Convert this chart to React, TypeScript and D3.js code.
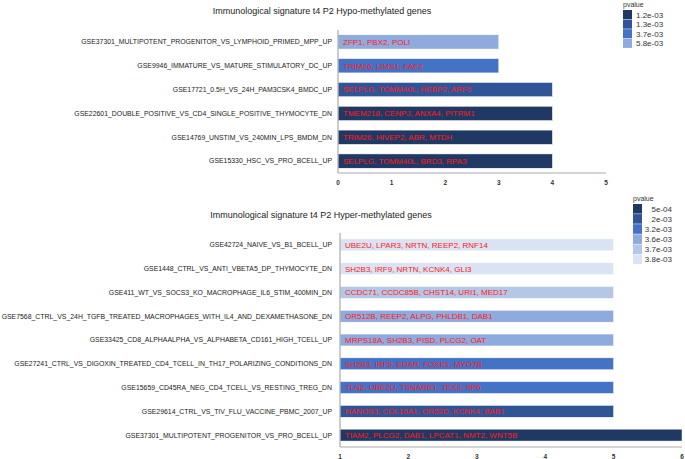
import React from "react";
import * as d3 from "d3";

const hypoCategories = [
  "GSE37301_MULTIPOTENT_PROGENITOR_VS_LYMPHOID_PRIMED_MPP_UP",
  "GSE9946_IMMATURE_VS_MATURE_STIMULATORY_DC_UP",
  "GSE17721_0.5H_VS_24H_PAM3CSK4_BMDC_UP",
  "GSE22601_DOUBLE_POSITIVE_VS_CD4_SINGLE_POSITIVE_THYMOCYTE_DN",
  "GSE14769_UNSTIM_VS_240MIN_LPS_BMDM_DN",
  "GSE15330_HSC_VS_PRO_BCELL_UP",
];
const hypoValues = [3, 3, 4, 4, 4, 4];
const hypoGenes = [
  "ZFP1, PBX2, POLI",
  "TRIM26, LIMS1, FAF2",
  "SELPLG, TOMM40L, HEBP2, ARF5",
  "TMEM218, CENPJ, ANXA4, PITRM1",
  "TRIM26, HIVEP2, ABR, MTDH",
  "SELPLG, TOMM40L, BRD3, RPA3",
];
const hypoPvalues = ["5.8e-03", "3.7e-03", "1.3e-03", "1.2e-03", "1.2e-03", "1.2e-03"];
const hypoLegend = ["1.2e-03", "1.3e-03", "3.7e-03", "5.8e-03"];
const hypoLegendColors = ["#203864", "#2F5597", "#4472C4", "#8FAADC"];
const hypoTicks = [0, 1, 2, 3, 4, 5];

const hyperCategories = [
  "GSE42724_NAIVE_VS_B1_BCELL_UP",
  "GSE1448_CTRL_VS_ANTI_VBETA5_DP_THYMOCYTE_DN",
  "GSE411_WT_VS_SOCS3_KO_MACROPHAGE_IL6_STIM_400MIN_DN",
  "GSE7568_CTRL_VS_24H_TGFB_TREATED_MACROPHAGES_WITH_IL4_AND_DEXAMETHASONE_DN",
  "GSE33425_CD8_ALPHAALPHA_VS_ALPHABETA_CD161_HIGH_TCELL_UP",
  "GSE27241_CTRL_VS_DIGOXIN_TREATED_CD4_TCELL_IN_TH17_POLARIZING_CONDITIONS_DN",
  "GSE15659_CD45RA_NEG_CD4_TCELL_VS_RESTING_TREG_DN",
  "GSE29614_CTRL_VS_TIV_FLU_VACCINE_PBMC_2007_UP",
  "GSE37301_MULTIPOTENT_PROGENITOR_VS_PRO_BCELL_UP",
];
const hyperValues = [5, 5, 5, 5, 5, 5, 5, 5, 6];
const hyperGenes = [
  "UBE2U, LPAR3, NRTN, REEP2, RNF14",
  "SH2B3, IRF9, NRTN, KCNK4, GLI3",
  "CCDC71, CCDC85B, CHST14, URI1, MED17",
  "OR512B, REEP2, ALPG, PHLDB1, DAB1",
  "MRPS18A, SH2B3, PISD, PLCG2, OAT",
  "SH2B3, IRF9, EDAR, FOXK1, MYO7B",
  "TLN2, UBE2U, TSNARE1, TEX2, SP6",
  "NANOS3, COL15A1, OR52D, KCNK4, BAB1",
  "TIAM2, PLCG2, DAB1, LPCAT1, NMT2, WNT5B",
];
const hyperPvalues = ["3.8e-03", "3.8e-03", "3.7e-03", "3.6e-03", "3.6e-03", "3.2e-03", "3.2e-03", "2e-03", "5e-04"];
const hyperLegend = ["5e-04", "2e-03", "3.2e-03", "3.6e-03", "3.7e-03", "3.8e-03"];
const hyperLegendColors = ["#203864", "#2F5597", "#4472C4", "#8FAADC", "#B4C7E7", "#DAE3F3"];
const hyperTicks = [1, 2, 3, 4, 5, 6];

const FONT = "'Liberation Sans', Arial, Helvetica, sans-serif";

type PanelProps = {
  title: string;
  titleX: number;
  titleY: number;
  categories: string[];
  values: number[];
  genes: string[];
  pvalues: string[];
  legend: string[];
  legendColors: string[];
  ticks: number[];
  x0: number;
  x1: number;
  yTop: number;
  yBottom: number;
  padding: number;
  legendX: number;
  legendY: number;
  legendRow: number;
  legendAlignRight: boolean;
  legendLabelX: number;
};

function Panel(p: PanelProps) {
  const x = d3
    .scaleLinear()
    .domain([p.ticks[0], p.ticks[p.ticks.length - 1]])
    .range([p.x0, p.x1]);
  const y = d3
    .scaleBand<string>()
    .domain(p.categories)
    .range([p.yTop, p.yBottom])
    .paddingInner(p.padding)
    .paddingOuter(p.padding / 2);
  const color = d3.scaleOrdinal<string, string>().domain(p.legend).range(p.legendColors);
  return (
    <g fontFamily={FONT}>
      <text x={p.titleX} y={p.titleY} textAnchor="middle" fontSize={9} fill="#222">
        {p.title}
      </text>
      {p.categories.map((c, i) => {
        const yy = y(c)!;
        const bw = y.bandwidth();
        return (
          <g key={c}>
            <rect
              x={x(p.ticks[0])}
              y={yy}
              width={x(p.values[i]) - x(p.ticks[0])}
              height={bw}
              fill={color(p.pvalues[i])}
              stroke="#ffffff"
              strokeWidth={0.5}
            />
            <text x={332} y={yy + bw / 2} dy="0.35em" textAnchor="end" fontSize={6.9} fill="#222">
              {c}
            </text>
            <text x={x(p.ticks[0]) + 5} y={yy + bw / 2} dy="0.36em" fontSize={8} fill="#ff1a1a">
              {p.genes[i]}
            </text>
          </g>
        );
      })}
      <line x1={p.x0} x2={p.x0} y1={p.yTop} y2={p.yBottom} stroke="#aaa" strokeWidth={1.2} />
      <line x1={p.x0} x2={p.x1} y1={p.yBottom} y2={p.yBottom} stroke="#aaa" strokeWidth={1.2} />
      {p.ticks.map((t) => (
        <text key={t} x={x(t)} y={p.yBottom + 12} textAnchor="middle" fontSize={6.5} fontWeight="bold" fill="#333">
          {t}
        </text>
      ))}
      <text x={p.legendX} y={p.legendY - 3} fontSize={7} fill="#333">
        pvalue
      </text>
      {p.legend.map((l, i) => (
        <g key={l}>
          <rect
            x={p.legendX}
            y={p.legendY + i * p.legendRow}
            width={9}
            height={p.legendRow - 0.5}
            fill={p.legendColors[i]}
          />
          <text
            x={p.legendLabelX}
            y={p.legendY + i * p.legendRow + p.legendRow / 2}
            dy="0.35em"
            textAnchor={p.legendAlignRight ? "end" : "start"}
            fontSize={8}
            fill="#333"
          >
            {l}
          </text>
        </g>
      ))}
    </g>
  );
}

export default function App() {
  return (
    <svg width={685} height={459} style={{ position: "absolute", left: 0, top: 0, background: "#fff" }}>
      <rect width={685} height={459} fill="#fff" />
      <Panel
        title="Immunological signature t4 P2 Hypo-methylated genes"
        titleX={322}
        titleY={14}
        categories={hypoCategories}
        values={hypoValues}
        genes={hypoGenes}
        pvalues={hypoPvalues}
        legend={hypoLegend}
        legendColors={hypoLegendColors}
        ticks={hypoTicks}
        x0={338}
        x1={606}
        yTop={30}
        yBottom={173}
        padding={0.4}
        legendX={623}
        legendY={10}
        legendRow={9.6}
        legendAlignRight={false}
        legendLabelX={636}
      />
      <Panel
        title="Immunological signature t4 P2 Hyper-methylated genes"
        titleX={321}
        titleY={218}
        categories={hyperCategories}
        values={hyperValues}
        genes={hyperGenes}
        pvalues={hyperPvalues}
        legend={hyperLegend}
        legendColors={hyperLegendColors}
        ticks={hyperTicks}
        x0={340}
        x1={682}
        yTop={233}
        yBottom={447}
        padding={0.5}
        legendX={633}
        legendY={204}
        legendRow={10.1}
        legendAlignRight={true}
        legendLabelX={672}
      />
    </svg>
  );
}
